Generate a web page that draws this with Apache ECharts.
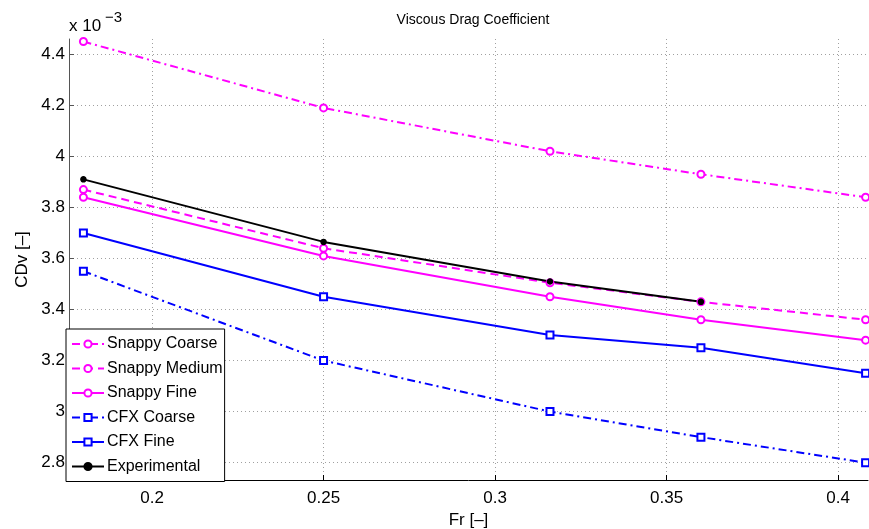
<!DOCTYPE html>
<html>
<head>
<meta charset="utf-8">
<script src="https://cdn.jsdelivr.net/npm/echarts@6/dist/echarts.min.js"></script>
<style>
  html, body { margin: 0; padding: 0; background: #fff; }
  #chart { width: 869px; height: 529px; }
</style>
</head>
<body>
<div id="chart"></div>
<script>
// Froude numbers (x) and CDv values, in units of 1e-3
const fr = [0.18, 0.25, 0.316, 0.36, 0.408]
const frExp = [0.18, 0.25, 0.316, 0.36]
const snappyCoarse = [4.45, 4.19, 4.02, 3.93, 3.84]
const snappyMedium = [3.87, 3.64, 3.505, 3.43, 3.36]
const snappyFine = [3.84, 3.61, 3.45, 3.36, 3.28]
const cfxCoarse = [3.55, 3.20, 3.00, 2.90, 2.80]
const cfxFine = [3.70, 3.45, 3.30, 3.25, 3.15]
const experimental = [3.91, 3.665, 3.51, 3.43]

const xTicks = [0.2, 0.25, 0.3, 0.35, 0.4]
const yTicks = [2.8, 3, 3.2, 3.4, 3.6, 3.8, 4, 4.2, 4.4]

const font = 'Liberation Sans, Arial, Helvetica, sans-serif'
const dashDot = [8, 4, 2, 4]
const dashed = [8, 5]

function pairs(xs, ys) {
  return ys.map((y, i) => [xs[i], y])
}

function line(name, xs, ys, color, type, symbol, size) {
  return {
    name: name,
    type: 'line',
    data: pairs(xs, ys),
    symbol: symbol,
    symbolSize: size,
    showSymbol: true,
    animation: false,
    lineStyle: { color: color, width: 2, type: type, cap: 'butt' },
    itemStyle: { color: color, borderColor: color, borderWidth: 1.5 }
  }
}

const chart = echarts.init(document.getElementById('chart'))
chart.setOption({
  backgroundColor: '#fff',
  textStyle: { fontFamily: font },
  title: {
    text: 'Viscous Drag Coefficient',
    left: 468,
    textAlign: 'center',
    top: 8,
    textStyle: { fontSize: 14, fontWeight: 'normal', color: '#000', fontFamily: font }
  },
  grid: {
    left: 69,
    right: 1,
    top: 39,
    bottom: 49,
    containLabel: false,
    outerBoundsMode: 'none'
  },
  legend: {
    orient: 'vertical',
    left: 66,
    top: 329,
    padding: [7, 2, 7, 5],
    itemGap: 8.5,
    itemWidth: 32,
    itemHeight: 9,
    backgroundColor: '#fff',
    borderColor: '#000',
    borderWidth: 1,
    borderRadius: 0,
    z: 10,
    textStyle: { fontSize: 16, color: '#000', fontFamily: font, lineHeight: 16, padding: [0, 0, 0, -2] },
    data: ['Snappy Coarse', 'Snappy Medium', 'Snappy Fine', 'CFX Coarse', 'CFX Fine', 'Experimental']
  },
  graphic: [{
    type: 'text',
    left: 69,
    top: 18,
    style: { text: 'x 10', fontSize: 17, fontFamily: font, fill: '#000' }
  }, {
    type: 'text',
    left: 105,
    top: 10,
    style: { text: '\u22123', fontSize: 15, fontFamily: font, fill: '#000' }
  }],
  xAxis: {
    type: 'value',
    min: 0.1758,
    max: 0.4087,
    name: 'Fr [\u2013]',
    nameLocation: 'middle',
    nameGap: 28,
    nameTextStyle: { fontSize: 17, color: '#000', fontFamily: font },
    axisLine: { show: true, onZero: false, lineStyle: { color: '#000', width: 1 } },
    axisTick: { show: true, inside: true, length: 5, customValues: xTicks, lineStyle: { color: '#000' } },
    axisLabel: { customValues: xTicks, fontSize: 17, color: '#000', margin: 10, fontFamily: font },
    splitLine: { show: true, lineStyle: { color: '#a0a0a0', type: [1, 3], width: 1 } }
  },
  yAxis: {
    type: 'value',
    min: 2.732,
    max: 4.46,
    name: 'CDv [\u2013]',
    nameLocation: 'middle',
    nameGap: 38,
    nameRotate: 90,
    nameTextStyle: { fontSize: 17, color: '#000', fontFamily: font },
    axisLine: { show: true, onZero: false, lineStyle: { color: '#555', width: 1 } },
    axisTick: { show: true, inside: true, length: 5, customValues: yTicks, lineStyle: { color: '#555' } },
    axisLabel: { customValues: yTicks, fontSize: 17, color: '#000', margin: 4, fontFamily: font },
    splitLine: { show: true, lineStyle: { color: '#a0a0a0', type: [1, 3], width: 1 } }
  },
  series: [
    line('Snappy Coarse', fr, snappyCoarse, '#ff00ff', dashDot, 'emptyCircle', 7),
    line('Snappy Medium', fr, snappyMedium, '#ff00ff', dashed, 'emptyCircle', 7),
    line('Snappy Fine', fr, snappyFine, '#ff00ff', 'solid', 'emptyCircle', 7),
    line('CFX Coarse', fr, cfxCoarse, '#0000ff', dashDot, 'emptyRect', 7),
    line('CFX Fine', fr, cfxFine, '#0000ff', 'solid', 'emptyRect', 7),
    line('Experimental', frExp, experimental, '#000000', 'solid', 'circle', 5)
  ]
})
</script>
</body>
</html>
